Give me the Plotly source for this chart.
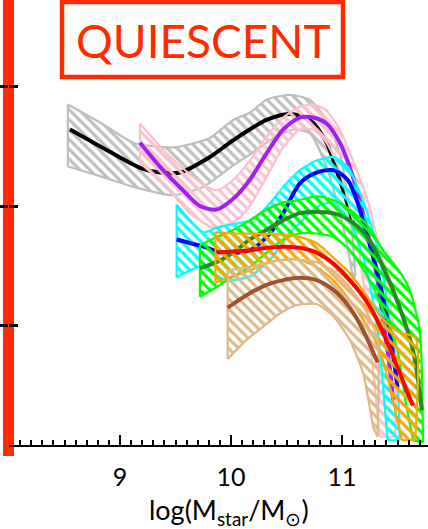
import plotly.graph_objects as go

# ---------------- data (log M*, log Phi) ----------------
# gray band / black line
gray_up_x = [8.53, 8.82, 9.12, 9.48, 9.72, 9.81, 10.02, 10.17, 10.32, 10.53, 10.71, 10.86, 10.98, 11.05, 11.09, 11.12]
gray_up_y = [-2.15, -2.30, -2.47, -2.51, -2.46, -2.43, -2.28, -2.22, -2.11, -2.07, -2.11, -2.28, -2.56, -2.92, -3.20, -3.58]
gray_lo_x = [8.53, 8.82, 9.12, 9.48, 9.75, 10.02, 10.17, 10.32, 10.56, 10.71, 10.86, 10.98, 11.05, 11.10]
gray_lo_y = [-2.67, -2.75, -2.84, -2.91, -2.84, -2.66, -2.57, -2.47, -2.36, -2.39, -2.67, -3.06, -3.34, -3.62]
black_x = [8.55, 8.82, 9.18, 9.36, 9.54, 9.81, 10.02, 10.32, 10.53, 10.71, 10.86, 10.98, 11.12]
black_y = [-2.36, -2.50, -2.68, -2.72, -2.72, -2.59, -2.45, -2.28, -2.23, -2.28, -2.47, -2.78, -3.20]

# pink band / purple line
pink_up_x = [9.18, 9.42, 9.69, 9.87, 10.02, 10.17, 10.32, 10.47, 10.62, 10.74, 10.86, 10.98, 11.10, 11.23, 11.32, 11.41, 11.48, 11.48]
pink_up_y = [-2.31, -2.56, -2.78, -2.87, -2.78, -2.62, -2.42, -2.26, -2.17, -2.15, -2.20, -2.36, -2.62, -2.95, -3.28, -3.62, -4.20, -4.93]
pink_lo_x = [9.18, 9.42, 9.63, 9.84, 10.05, 10.17, 10.32, 10.47, 10.62, 10.74, 10.86, 10.98, 11.07, 11.14, 11.19, 11.27, 11.34]
pink_lo_y = [-2.64, -2.84, -3.06, -3.18, -3.12, -3.00, -2.76, -2.51, -2.36, -2.36, -2.47, -2.70, -3.01, -3.28, -3.62, -4.29, -4.93]
purple_x = [9.18, 9.36, 9.57, 9.72, 9.87, 10.02, 10.17, 10.32, 10.47, 10.62, 10.74, 10.86, 10.98, 11.10, 11.23, 11.32, 11.37, 11.43, 11.46]
purple_y = [-2.47, -2.67, -2.87, -3.00, -3.03, -2.94, -2.78, -2.56, -2.36, -2.26, -2.26, -2.31, -2.47, -2.76, -3.22, -3.62, -3.95, -4.35, -4.62]

# cyan band / blue line
cyan_up_x = [9.51, 9.75, 9.87, 10.17, 10.32, 10.47, 10.62, 10.77, 10.92, 11.05, 11.14, 11.25, 11.34, 11.43, 11.50, 11.52]
cyan_up_y = [-2.99, -3.22, -3.18, -3.12, -3.01, -2.84, -2.70, -2.62, -2.59, -2.67, -2.84, -3.12, -3.43, -3.95, -4.46, -4.96]
cyan_lo_x = [9.51, 9.72, 9.96, 10.17, 10.35, 10.53, 10.62, 10.77, 10.92, 11.07, 11.16, 11.23, 11.32, 11.41]
cyan_lo_y = [-3.60, -3.51, -3.62, -3.59, -3.45, -3.23, -3.14, -3.01, -2.97, -3.12, -3.34, -3.56, -4.04, -4.96]
blue_x = [9.51, 9.75, 9.93, 10.17, 10.35, 10.47, 10.62, 10.77, 10.92, 11.05, 11.14, 11.23, 11.32, 11.43, 11.50]
blue_y = [-3.28, -3.34, -3.39, -3.37, -3.23, -3.06, -2.81, -2.72, -2.70, -2.78, -2.97, -3.26, -3.56, -4.06, -4.52]

# green band / dark green line
green_up_x = [9.72, 9.87, 10.02, 10.17, 10.32, 10.47, 10.62, 10.77, 10.92, 11.07, 11.23, 11.37, 11.52, 11.61, 11.70, 11.73]
green_up_y = [-3.33, -3.26, -3.20, -3.12, -3.03, -2.97, -2.95, -2.92, -2.95, -3.03, -3.16, -3.37, -3.55, -3.70, -4.04, -4.98]
green_lo_x = [9.72, 9.87, 10.02, 10.17, 10.32, 10.47, 10.62, 10.77, 10.92, 11.07, 11.23, 11.37, 11.50, 11.57, 11.64]
green_lo_y = [-3.76, -3.68, -3.59, -3.51, -3.39, -3.28, -3.23, -3.23, -3.26, -3.37, -3.59, -3.87, -4.21, -4.62, -4.96]
dkgreen_x = [9.72, 9.87, 10.02, 10.17, 10.32, 10.47, 10.62, 10.77, 10.92, 11.07, 11.23, 11.37, 11.52, 11.64, 11.72]
dkgreen_y = [-3.52, -3.47, -3.39, -3.28, -3.20, -3.12, -3.06, -3.05, -3.06, -3.12, -3.26, -3.51, -3.85, -4.21, -4.71]

# orange band / red line
orange_up_x = [9.86, 10.02, 10.17, 10.47, 10.62, 10.77, 10.92, 11.07, 11.23, 11.37, 11.52, 11.66, 11.66]
orange_up_y = [-3.22, -3.23, -3.23, -3.24, -3.26, -3.31, -3.43, -3.56, -3.76, -3.95, -4.06, -4.10, -4.96]
orange_lo_x = [9.86, 10.02, 10.17, 10.32, 10.47, 10.62, 10.77, 10.92, 11.07, 11.23, 11.34, 11.43, 11.54]
orange_lo_y = [-3.64, -3.59, -3.54, -3.48, -3.45, -3.45, -3.51, -3.62, -3.79, -4.01, -4.21, -4.51, -4.96]
red_x = [9.87, 10.02, 10.17, 10.32, 10.47, 10.62, 10.77, 10.92, 11.07, 11.23, 11.37, 11.50, 11.59, 11.64]
red_y = [-3.39, -3.38, -3.37, -3.35, -3.34, -3.35, -3.39, -3.48, -3.62, -3.81, -4.06, -4.35, -4.56, -4.67]

# tan band / brown line
tan_up_x = [9.97, 10.17, 10.32, 10.47, 10.62, 10.77, 10.92, 11.07, 11.23, 11.32, 11.32]
tan_up_y = [-3.54, -3.51, -3.48, -3.45, -3.45, -3.47, -3.54, -3.68, -3.90, -4.12, -4.93]
tan_lo_x = [9.97, 10.14, 10.29, 10.44, 10.59, 10.77, 10.92, 11.07, 11.19, 11.28]
tan_lo_y = [-4.28, -4.12, -4.01, -3.90, -3.83, -3.82, -3.92, -4.12, -4.40, -4.85]
brown_x = [9.97, 10.17, 10.32, 10.47, 10.62, 10.77, 10.92, 11.07, 11.19, 11.32]
brown_y = [-3.85, -3.73, -3.66, -3.62, -3.60, -3.62, -3.70, -3.85, -4.04, -4.31]

x_ticks = [9, 10, 11]
x_tick_labels = ["9", "10", "11"]
y_ticks = [-4, -3, -2]

series = [
    (gray_up_x, gray_up_y, gray_lo_x, gray_lo_y, "#BEBEBE", black_x, black_y, "#000000"),
    (pink_up_x, pink_up_y, pink_lo_x, pink_lo_y, "#FFC0CB", purple_x, purple_y, "#A020F0"),
    (cyan_up_x, cyan_up_y, cyan_lo_x, cyan_lo_y, "#00FFFF", blue_x, blue_y, "#0000FF"),
    (green_up_x, green_up_y, green_lo_x, green_lo_y, "#00FF00", dkgreen_x, dkgreen_y, "#228B22"),
    (orange_up_x, orange_up_y, orange_lo_x, orange_lo_y, "#FFA500", red_x, red_y, "#FF0000"),
    (tan_up_x, tan_up_y, tan_lo_x, tan_lo_y, "#DEB887", brown_x, brown_y, "#A0522D"),
]

RED = "#FF2A00"
FONT = "Lato"

fig = go.Figure()
for ux, uy, lx, ly, bc, cx, cy, lc in series:
    px = list(ux) + list(reversed(lx)) + [ux[0]]
    py = list(uy) + list(reversed(ly)) + [uy[0]]
    # hatched fill
    fig.add_trace(go.Scatter(
        x=px, y=py, mode="lines", fill="toself",
        fillcolor="rgba(0,0,0,0)",
        fillpattern=dict(shape="\\", fgcolor=bc, bgcolor="rgba(0,0,0,0)",
                         fillmode="replace", size=7, solidity=0.45),
        line=dict(color="rgba(0,0,0,0)", width=0),
        hoverinfo="skip", showlegend=False))
    # outline: upper edge, lower edge, and the two end edges
    for ex, ey, shp in [(ux, uy, "spline"), (lx, ly, "spline"),
                        ([ux[0], lx[0]], [uy[0], ly[0]], "linear"),
                        ([ux[-1], lx[-1]], [uy[-1], ly[-1]], "linear")]:
        fig.add_trace(go.Scatter(
            x=ex, y=ey, mode="lines",
            line=dict(color=bc, width=2.2, shape=shp, smoothing=0.6),
            hoverinfo="skip", showlegend=False))
    # central line
    fig.add_trace(go.Scatter(
        x=cx, y=cy, mode="lines",
        line=dict(color=lc, width=4, shape="spline", smoothing=0.8),
        showlegend=False))

# invisible trace to anchor the second y axis (outer tick halves)
fig.add_trace(go.Scatter(x=[None], y=[None], yaxis="y2", showlegend=False))

W, H = 428, 529
ML, MB = 9, 84
pw, ph = W - ML, H - MB

def paper_x(p):
    return (p - ML) / pw

def paper_y(p):
    return (ph - p) / ph

fig.update_layout(
    width=W, height=H,
    margin=dict(l=ML, r=0, t=0, b=MB, pad=0),
    paper_bgcolor="white", plot_bgcolor="white",
    font=dict(family=FONT, color="black"),
    xaxis=dict(range=[8.0, 8.0 + pw / 111.0], showgrid=False, zeroline=False,
               showline=True, linecolor="black", linewidth=2,
               tickmode="array", tickvals=x_ticks, ticktext=x_tick_labels,
               ticks="inside", ticklen=10, tickwidth=2, tickcolor="black",
               ticklabelstandoff=9,
               tickfont=dict(family=FONT, size=25, color="black"),
               minor=dict(dtick=0.1, tick0=8.0, ticks="inside", ticklen=5,
                          tickwidth=1.5, tickcolor="black", showgrid=False)),
    yaxis=dict(range=[-5.0, -5.0 + ph / 119.5], showgrid=False, zeroline=False,
               showline=False, tickmode="array", tickvals=y_ticks,
               ticks="inside", ticklen=9, tickwidth=2.5, tickcolor="black",
               showticklabels=False),
    yaxis2=dict(range=[-5.0, -5.0 + ph / 119.5], overlaying="y", side="left",
                anchor="x", showgrid=False, zeroline=False, showline=False,
                tickmode="array", tickvals=y_ticks, ticks="outside", ticklen=8,
                tickwidth=2.5, tickcolor="black", showticklabels=False),
    shapes=[
        dict(type="rect", xref="paper", yref="paper",
             x0=paper_x(3), x1=paper_x(14), y0=paper_y(456), y1=paper_y(0),
             fillcolor=RED, line=dict(width=0), layer="below"),
        dict(type="rect", xref="paper", yref="paper",
             x0=paper_x(62), x1=paper_x(343), y0=paper_y(77), y1=paper_y(2),
             fillcolor="white", line=dict(color=RED, width=4.5), layer="above"),
    ],
    annotations=[
        dict(text="QUIESCENT", xref="paper", yref="paper",
             x=paper_x(203), y=paper_y(40), xanchor="center", yanchor="middle",
             showarrow=False, font=dict(family=FONT, size=46, color=RED)),
        dict(text="log(M<sub>star</sub>/M<sub>⊙</sub>)", xref="paper", yref="paper",
             x=paper_x(229), y=paper_y(511), xanchor="center", yanchor="middle",
             showarrow=False, font=dict(family=FONT, size=27, color="black")),
    ],
)

fig.write_html("out.html")
